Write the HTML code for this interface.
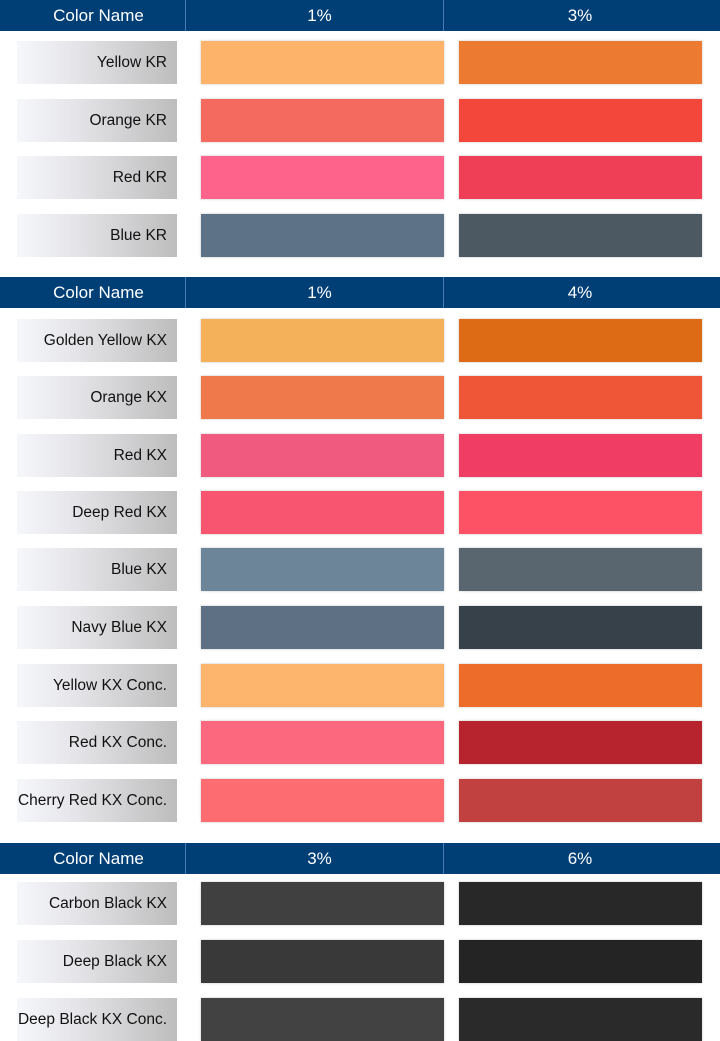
<!DOCTYPE html>
<html><head><meta charset="utf-8"><style>
body{margin:0;width:720px;height:1040px;overflow:hidden;background:#fff;font-family:"Liberation Sans",sans-serif;position:relative}
.hdr{position:absolute;left:0;width:720px;height:31px;background:#003f76;color:#fff;font-size:17px}
.hdr div{position:absolute;top:0;height:31px;line-height:32px;text-align:center;box-sizing:border-box}
.hdr .c0{left:0;width:186px;border-right:1px solid #4a7ab5;padding-left:12px}
.hdr .c1{left:186px;width:258px;border-right:1px solid #4a7ab5;padding-left:10px}
.hdr .c2{left:444px;width:276px;padding-right:4px}
.lab{position:absolute;left:17px;width:160px;height:43px;background:linear-gradient(90deg,#f6f7fa 0%,#e6e6ea 35%,#bdbdbd 100%);font-size:15.5px;color:#111;text-align:right;line-height:43px;box-sizing:border-box;padding-right:10px;white-space:nowrap}
.sw{position:absolute;width:243px;height:43px;box-shadow:0 0 2px rgba(0,0,0,.25)}
</style></head><body>
<script>
const sectionTops=[0,277,843];
const sectionHeads=[["1%","3%"],["1%","4%"],["3%","6%"]];
const sectionRowTops=[[41,99,156,214],[319,376,434,491,548,606,664,721,779],[882,940,998]];
const names=[["Yellow KR","Orange KR","Red KR","Blue KR"],
["Golden Yellow KX","Orange KX","Red KX","Deep Red KX","Blue KX","Navy Blue KX","Yellow KX Conc.","Red KX Conc.","Cherry Red KX Conc."],
["Carbon Black KX","Deep Black KX","Deep Black KX Conc."]];
const colorsA=[["#fdb46a","#f56a5e","#fe638b","#5d7286"],
["#f5b05a","#f0794c","#f05a7e","#f85670","#6d8599","#5d7084","#fdb46c","#fc687e","#fc6c70"],
["#404040","#393939","#424242"]];
const colorsB=[["#ec7a30","#f2473a","#ee3f57","#4c5862"],
["#dd6a14","#ee5637","#f03d64","#fd5266","#59656f","#36414a","#ee6c29","#b7242e","#c0413f"],
["#282828","#242424","#2a2a2a"]];
sectionTops.forEach((t,s)=>{
  const h=document.createElement('div');h.className='hdr';h.style.top=t+'px';
  
  
  h.innerHTML='<div class="c0">Color Name</div><div class="c1">'+sectionHeads[s][0]+'</div><div class="c2">'+sectionHeads[s][1]+'</div>';
  document.body.appendChild(h);
  sectionRowTops[s].forEach((y,i)=>{
    const l=document.createElement('div');l.className='lab';l.style.top=y+'px';l.textContent=names[s][i];
    
    
    document.body.appendChild(l);
    const a=document.createElement('div');a.className='sw';a.style.top=y+'px';a.style.left='201px';a.style.background=colorsA[s][i];
    
    
    document.body.appendChild(a);
    const b=document.createElement('div');b.className='sw';b.style.top=y+'px';b.style.left='459px';b.style.background=colorsB[s][i];
    
    
    document.body.appendChild(b);
  });
});
</script>
</body></html>
